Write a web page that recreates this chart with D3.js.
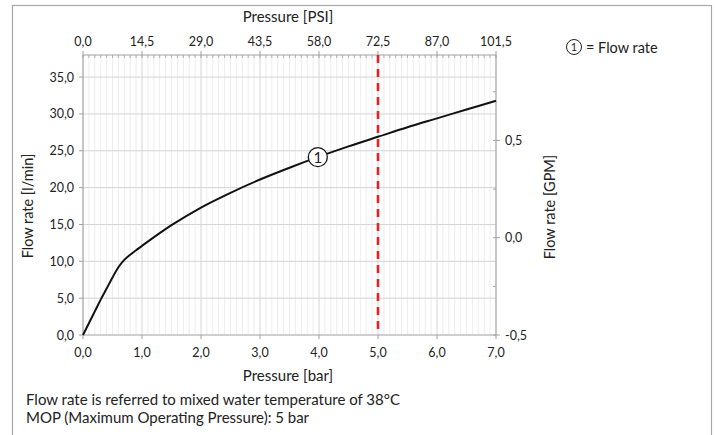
<!DOCTYPE html>
<html lang="en">
<head>
<meta charset="UTF-8">
<title>Flow rate vs pressure</title>
<style>
    body { margin: 0; background: #fff; }
    text { font-family: Lato, "Open Sans", sans-serif; fill: #222; }
    .grid-minor { stroke: #ededed; stroke-width: 1; }
    .grid-major { stroke: #d4d4d4; stroke-width: 1; }
    .axis-line { stroke: #a0a0a0; stroke-width: 1.2; }
</style>
</head>
<body>
<div id="chart"></div>
<script src="https://d3js.org/d3.v7.min.js"></script>
<script>
"use strict";

// flow curve: pressure [bar] -> flow rate [l/min]
const pressureBar = [0.0, 0.1, 0.2, 0.3, 0.4, 0.5, 0.6, 0.7, 0.8, 0.9, 1.0, 1.5, 2.0, 2.5, 3.0, 3.5, 4.0, 4.5, 5.0, 5.5, 6.0, 6.5, 7.0];
const flowLmin    = [0.0, 1.6, 3.2, 4.8, 6.3, 7.8, 9.2, 10.2, 10.9, 11.5, 12.1, 14.9, 17.3, 19.3, 21.1, 22.7, 24.2, 25.6, 26.9, 28.2, 29.4, 30.6, 31.8];

const barTicks = [0, 1, 2, 3, 4, 5, 6, 7];
const psiTicks = [0, 14.5, 29, 43.5, 58, 72.5, 87, 101.5];
const lminTicks = [0, 5, 10, 15, 20, 25, 30, 35];
const gpmTicks = [-0.5, 0, 0.5];
const gpmMinor = [-0.25, 0.25, 0.75];

const mopBar = 5;
const markerBar = 3.98;

const W = 717, H = 435;
const m = { left: 83, right: 496, top: 55, bottom: 335 };

const fmt = v => d3.format(".1f")(v).replace(".", ",").replace("−", "-");

const svg = d3.select("#chart").append("svg")
    .attr("width", W).attr("height", H);

// outer frame
svg.append("rect")
    .attr("x", 12.5).attr("y", 5.5)
    .attr("width", 699).attr("height", 440)
    .attr("fill", "none").attr("stroke", "#a8a8a8").attr("stroke-width", 1.2);

const x = d3.scaleLinear().domain([0, 7]).range([m.left, m.right]);
const xPsi = d3.scaleLinear().domain([0, 101.5]).range([m.left, m.right]);
const y = d3.scaleLinear().domain([0, 38]).range([m.bottom, m.top]);
const yGpm = d3.scaleLinear().domain([-0.5, 0.939]).range([m.bottom, m.top]);

// minor vertical gridlines every 0.1 bar
const minorX = d3.range(1, 70).filter(i => i % 10 !== 0).map(i => i / 10);
svg.append("g").selectAll("line").data(minorX).join("line")
    .attr("class", "grid-minor")
    .attr("x1", d => x(d)).attr("x2", d => x(d))
    .attr("y1", m.top).attr("y2", m.bottom);

svg.append("g").selectAll("line").data(barTicks.slice(1, -1)).join("line")
    .attr("class", "grid-major")
    .attr("x1", d => x(d)).attr("x2", d => x(d))
    .attr("y1", m.top).attr("y2", m.bottom);

svg.append("g").selectAll("line").data(lminTicks.slice(1)).join("line")
    .attr("class", "grid-major")
    .attr("x1", m.left).attr("x2", m.right)
    .attr("y1", d => y(d)).attr("y2", d => y(d));

// axis lines
svg.append("line").attr("class", "axis-line")
    .attr("x1", m.left).attr("x2", m.left).attr("y1", m.top).attr("y2", m.bottom);
svg.append("line").attr("class", "axis-line")
    .attr("x1", m.right).attr("x2", m.right).attr("y1", m.top).attr("y2", m.bottom);
svg.append("line").attr("class", "axis-line")
    .attr("x1", m.left).attr("x2", m.right).attr("y1", m.bottom).attr("y2", m.bottom);
svg.append("line").attr("class", "axis-line")
    .attr("x1", m.left).attr("x2", m.right).attr("y1", m.top).attr("y2", m.top);

// top PSI ticks (minor every 0.1 bar, major at psi labels)
svg.append("g").selectAll("line").data(minorX).join("line")
    .attr("stroke", "#b0b0b0")
    .attr("x1", d => x(d)).attr("x2", d => x(d))
    .attr("y1", m.top).attr("y2", m.top + 3);
svg.append("g").selectAll("line").data(psiTicks).join("line")
    .attr("stroke", "#a0a0a0")
    .attr("x1", d => xPsi(d)).attr("x2", d => xPsi(d))
    .attr("y1", m.top - 4).attr("y2", m.top + 3);
svg.append("g").selectAll("text").data(psiTicks).join("text")
    .attr("x", d => xPsi(d)).attr("y", 46)
    .attr("text-anchor", "middle").attr("font-size", 12.5)
    .text(fmt);

// bottom bar ticks
svg.append("g").selectAll("line").data(barTicks).join("line")
    .attr("stroke", "#a0a0a0")
    .attr("x1", d => x(d)).attr("x2", d => x(d))
    .attr("y1", m.bottom).attr("y2", m.bottom + 4);
svg.append("g").selectAll("text").data(barTicks).join("text")
    .attr("x", d => x(d)).attr("y", 357)
    .attr("text-anchor", "middle").attr("font-size", 12.5)
    .text(fmt);

// left l/min ticks
svg.append("g").selectAll("line").data(lminTicks).join("line")
    .attr("stroke", "#a0a0a0")
    .attr("x1", m.left - 4).attr("x2", m.left)
    .attr("y1", d => y(d)).attr("y2", d => y(d));
svg.append("g").selectAll("text").data(lminTicks).join("text")
    .attr("x", m.left - 9).attr("y", d => y(d) + 4.5)
    .attr("text-anchor", "end").attr("font-size", 12.5)
    .text(fmt);

// right GPM ticks
svg.append("g").selectAll("line").data(gpmTicks).join("line")
    .attr("stroke", "#a0a0a0")
    .attr("x1", m.right - 3).attr("x2", m.right + 4)
    .attr("y1", d => yGpm(d)).attr("y2", d => yGpm(d));
svg.append("g").selectAll("line").data(gpmMinor).join("line")
    .attr("stroke", "#a0a0a0")
    .attr("x1", m.right - 3).attr("x2", m.right)
    .attr("y1", d => yGpm(d)).attr("y2", d => yGpm(d));
svg.append("g").selectAll("text").data(gpmTicks).join("text")
    .attr("x", m.right + 9).attr("y", d => yGpm(d) + 4.5)
    .attr("text-anchor", "start").attr("font-size", 12.5)
    .text(fmt);

// MOP line
svg.append("line")
    .attr("x1", x(mopBar)).attr("x2", x(mopBar))
    .attr("y1", m.top).attr("y2", m.bottom)
    .attr("stroke", "#e8202a").attr("stroke-width", 2.6)
    .attr("stroke-dasharray", "8,6");

// flow curve
const pts = pressureBar.map((p, i) => [p, flowLmin[i]]);
svg.append("path")
    .datum(pts)
    .attr("fill", "none").attr("stroke", "#111").attr("stroke-width", 2)
    .attr("d", d3.line().x(d => x(d[0])).y(d => y(d[1])).curve(d3.curveCatmullRom.alpha(0.5)));

// marker 1
const interp = d3.scaleLinear().domain(pressureBar).range(flowLmin);
const mk = svg.append("g")
    .attr("transform", `translate(${x(markerBar)},${y(interp(markerBar))})`);
mk.append("circle").attr("r", 9.5)
    .attr("fill", "#fff").attr("stroke", "#111").attr("stroke-width", 1.3);
mk.append("text").attr("y", 5.5).attr("text-anchor", "middle")
    .attr("font-size", 15).text("1");

// axis titles
svg.append("text").attr("x", 288).attr("y", 22)
    .attr("text-anchor", "middle").attr("font-size", 15).text("Pressure [PSI]");
svg.append("text").attr("x", 288).attr("y", 381)
    .attr("text-anchor", "middle").attr("font-size", 15).text("Pressure [bar]");
svg.append("text")
    .attr("transform", "translate(33,206) rotate(-90)")
    .attr("text-anchor", "middle").attr("font-size", 14.5).text("Flow rate [l/min]");
svg.append("text")
    .attr("transform", "translate(555,207) rotate(-90)")
    .attr("text-anchor", "middle").attr("font-size", 14.5).text("Flow rate [GPM]");

// legend
const lg = svg.append("g").attr("transform", "translate(574,47)");
lg.append("circle").attr("r", 7.5)
    .attr("fill", "#fff").attr("stroke", "#222").attr("stroke-width", 1);
lg.append("text").attr("y", 4).attr("text-anchor", "middle")
    .attr("font-size", 11).text("1");
lg.append("text").attr("x", 12).attr("y", 5.5)
    .attr("font-size", 14.5).text("= Flow rate");

// footnotes
svg.append("text").attr("x", 26).attr("y", 405)
    .attr("font-size", 15).text("Flow rate is referred to mixed water temperature of 38°C");
svg.append("text").attr("x", 26).attr("y", 423)
    .attr("font-size", 15).text("MOP (Maximum Operating Pressure): 5 bar");
</script>
</body>
</html>
